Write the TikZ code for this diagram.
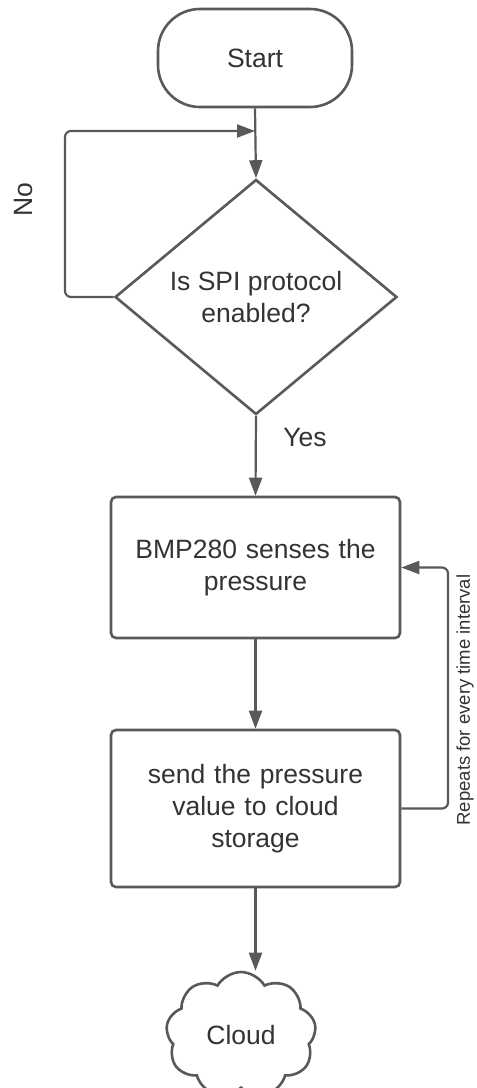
\documentclass[tikz,border=0pt]{standalone}
\usepackage{fontspec}
\setmainfont{Liberation Sans}
\usetikzlibrary{shapes.geometric,shapes.symbols,arrows.meta}
\definecolor{linec}{HTML}{595959}
\definecolor{textc}{HTML}{333333}
\begin{document}
\begin{tikzpicture}[x=1pt,y=-1pt,
  every node/.style={text=textc},
  shapeline/.style={draw=linec, line width=2.6pt, fill=white},
  bigtext/.style={font=\fontsize{26.5}{32}\selectfont, align=center},
  arr/.style={draw=linec, line width=2.2pt, -{Triangle[length=18pt,width=13pt]}},
  procbox/.style={shapeline, rounded corners=5pt, minimum width=289pt, inner sep=0pt, bigtext, text width=280pt}
]
\useasboundingbox (0,0) rectangle (477,1088);
\fill[white] (0,0) rectangle (477,1088);

\node[shapeline, rounded corners=42pt, minimum width=194pt, minimum height=98pt, inner sep=0pt, bigtext] (start) at (255,58) {Start};

\node[shapeline, diamond, aspect=1.2, minimum width=282pt, minimum height=235pt, inner sep=0pt, bigtext] (dia) at (256,297) {Is SPI protocol\\enabled?};

\node[procbox, minimum height=141pt] (box1) at (255.5,567.5) {BMP280 senses the\\pressure};
\node[procbox, minimum height=157pt] (box2) at (255.5,808.5) {send the pressure\\value to cloud\\storage};

\node[shapeline, cloud, cloud puffs=9, cloud puff arc=120, cloud ignores aspect, minimum width=150pt, minimum height=126pt, inner sep=0pt, bigtext] (cloud) at (241,1035) {Cloud};

\coordinate (join) at (255,131);
\coordinate (loopL) at (65,297);
\coordinate (loopT) at (65,131);
\coordinate (fbR) at (448,808.5);

\draw[arr] (start.south) -- (dia.north);
\draw[arr, rounded corners=6pt] (dia.west) -- (loopL) -- (loopT) -- (join);
\draw[arr] (dia.south) -- (box1.north);
\draw[arr] (box1.south) -- (box2.north);
\draw[arr, rounded corners=6pt] (box2.east) -- (fbR) |- (box1.east);
\draw[arr] (box2.south) -- (box2.south |- cloud.north);

\node[rotate=90, font=\fontsize{26.5}{30}\selectfont] (no) at (24,200) {No};
\node[font=\fontsize{26.5}{30}\selectfont] (yes) at (305,438) {Yes};
\node[rotate=90, font=\fontsize{18.5}{22}\selectfont, inner sep=1pt] (rep) at (465,700) {Repeats for every time interval};
\end{tikzpicture}
\end{document}
